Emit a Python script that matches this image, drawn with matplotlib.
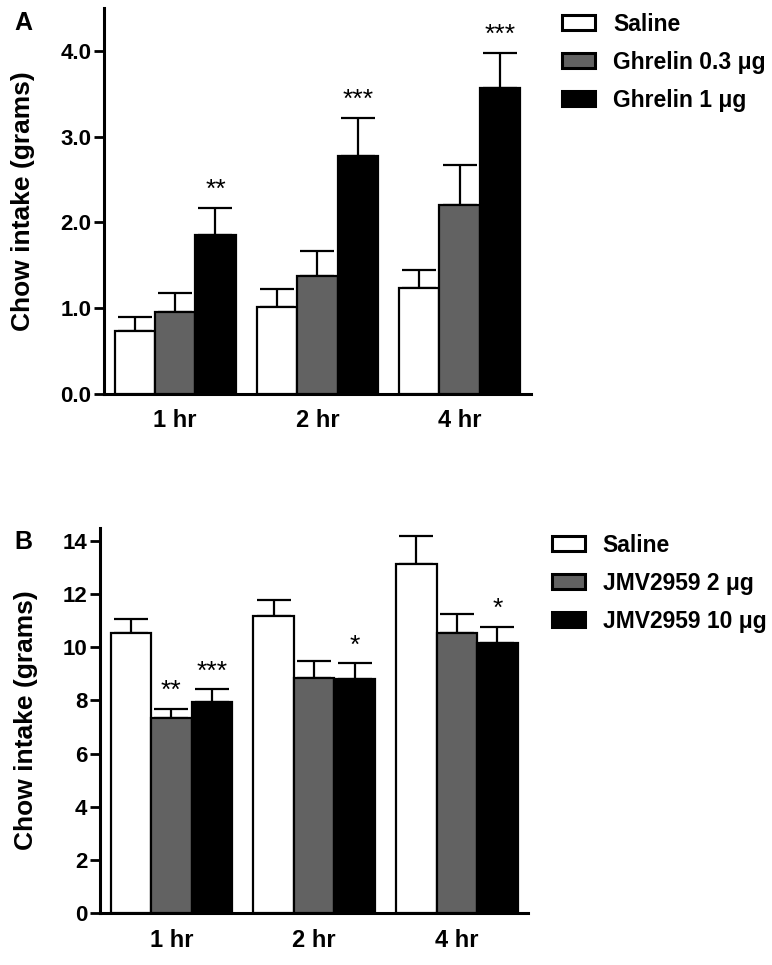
import numpy as np
import matplotlib
matplotlib.use('Agg')
import matplotlib.pyplot as plt
from matplotlib.patches import Patch

plt.rcParams['font.family'] = ['Liberation Sans', 'DejaVu Sans']
plt.rcParams['font.weight'] = 'bold'
plt.rcParams['axes.labelweight'] = 'bold'

times = ['1 hr', '2 hr', '4 hr']

# panel A: ghrelin
a_labels = ['Saline', 'Ghrelin 0.3 \u03bcg', 'Ghrelin 1 \u03bcg']
a_means = [[0.73, 1.02, 1.24],
           [0.96, 1.375, 2.20],
           [1.85, 2.78, 3.57]]
a_sem = [[0.17, 0.21, 0.21],
         [0.22, 0.295, 0.47],
         [0.32, 0.44, 0.41]]
a_stars = [['', '', ''],
           ['', '', ''],
           ['**', '***', '***']]

# panel B: JMV2959
b_labels = ['Saline', 'JMV2959 2 \u03bcg', 'JMV2959 10 \u03bcg']
b_means = [[10.55, 11.18, 13.13],
           [7.33, 8.86, 10.53],
           [7.95, 8.80, 10.15]]
b_sem = [[0.51, 0.60, 1.05],
         [0.36, 0.64, 0.72],
         [0.48, 0.60, 0.62]]
b_stars = [['', '', ''],
           ['**', '', ''],
           ['***', '*', '*']]

colors = ['white', '#626262', 'black']


def plot_panel(ax, labels, means, sems, stars, yticks, fmt, ylim, letter, leg_xy):
    x = np.arange(len(times))
    w = 0.284
    handles = []
    for i, (lab, m, s, st) in enumerate(zip(labels, means, sems, stars)):
        pos = x + (i - 1) * w
        ax.bar(pos, m, width=w, color=colors[i], edgecolor='black', linewidth=1.6,
               yerr=[np.zeros(len(m)), s], zorder=3,
               error_kw=dict(ecolor='black', elinewidth=1.6, capsize=12, capthick=1.6, zorder=2))
        for p, mv, sv, t in zip(pos, m, s, st):
            if t:
                ax.annotate(t, (p, mv + sv), xytext=(0, 4), textcoords='offset points',
                            ha='center', va='bottom', fontsize=19, fontweight='normal')
        handles.append(Patch(facecolor=colors[i], edgecolor='black', linewidth=2.2))

    ax.set_xlim(-0.5, 2.5)
    ax.set_ylim(*ylim)
    ax.set_yticks(yticks)
    ax.set_yticklabels([fmt % v for v in yticks])
    ax.set_xticks(x)
    ax.set_xticklabels(times)
    ax.tick_params(axis='x', length=0, pad=11, labelsize=17)
    ax.tick_params(axis='y', length=7, width=2, labelsize=16, pad=2)
    for side in ['top', 'right']:
        ax.spines[side].set_visible(False)
    for side in ['left', 'bottom']:
        ax.spines[side].set_linewidth(2.2)
    ax.set_ylabel('Chow intake (grams)', fontsize=19, labelpad=18)

    fig = ax.figure
    bb = ax.get_position()
    fig.text(0.019, bb.y1 - 0.003, letter, fontsize=18, ha='left', va='top')
    ax.legend(handles, labels, loc='upper left', bbox_to_anchor=leg_xy,
              bbox_transform=fig.transFigure, frameon=False, fontsize=16.5,
              borderpad=0, borderaxespad=0,
              handlelength=1.45, handleheight=0.63, handletextpad=0.78, labelspacing=0.66)


fig = plt.figure(figsize=(7.72, 9.65), dpi=100)
ax_a = fig.add_axes([0.1347, 0.5917, 0.5527, 0.400])
ax_b = fig.add_axes([0.1295, 0.0536, 0.5548, 0.3997])

plot_panel(ax_a, a_labels, a_means, a_sem, a_stars, [0.0, 1.0, 2.0, 3.0, 4.0], '%.1f',
           (0, 4.5), 'A', (0.728, 0.987))
plot_panel(ax_b, b_labels, b_means, b_sem, b_stars, list(range(0, 15, 2)), '%d',
           (0, 14.5), 'B', (0.7147, 0.447))

fig.savefig('out.png', dpi=100)
